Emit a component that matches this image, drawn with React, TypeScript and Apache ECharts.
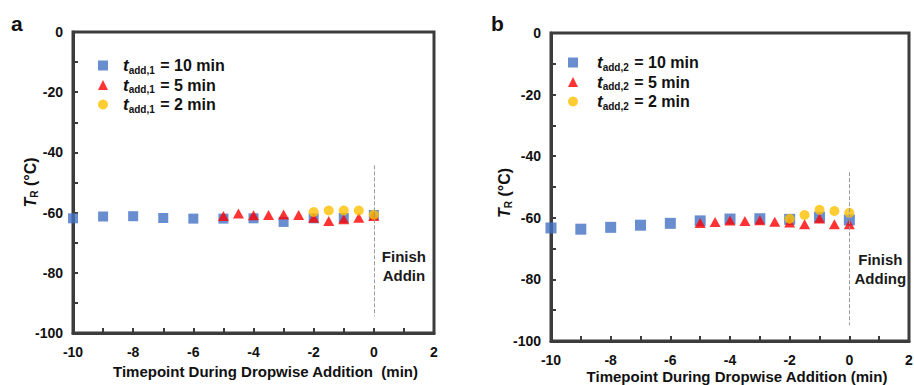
import React, { useEffect, useRef } from "react";
import * as echarts from "echarts";

const FONT = "'Liberation Sans', Arial, Helvetica, sans-serif";

// Panel a
const xA10 = [-10, -9, -8, -7, -6, -5, -4, -3, -2, -1, 0];
const yA10 = [-61.9, -61.3, -61.2, -61.8, -62.0, -62.0, -61.9, -63.1, -61.9, -61.8, -60.8];
const xA5 = [-5, -4.5, -4, -3.5, -3, -2.5, -2, -1.5, -1, -0.5, 0];
const yA5 = [-61.1, -60.3, -60.9, -60.8, -60.6, -60.8, -61.7, -62.8, -62.2, -61.7, -61.1];
const xA2 = [-2, -1.5, -1, -0.5, 0];
const yA2 = [-59.8, -59.3, -59.3, -59.3, -60.7];

// Panel b
const xB10 = [-10, -9, -8, -7, -6, -5, -4, -3, -2, -1, 0];
const yB10 = [-63.3, -63.7, -63.1, -62.4, -61.8, -61.0, -60.4, -60.3, -60.5, -59.8, -60.7];
const xB5 = [-5, -4.5, -4, -3.5, -3, -2.5, -2, -1.5, -1, -0.5, 0];
const yB5 = [-61.7, -61.4, -60.9, -61.0, -60.8, -61.3, -61.5, -62.1, -60.2, -62.1, -62.1];
const xB2 = [-2, -1.5, -1, -0.5, 0];
const yB2 = [-60.3, -59.1, -57.4, -57.8, -58.4];

const namesA = ["tadd,1 = 10 min", "tadd,1 = 5 min", "tadd,1 = 2 min"];
const namesB = ["tadd,2 = 10 min", "tadd,2 = 5 min", "tadd,2 = 2 min"];

const X_RANGE = [-10, 2];
const Y_RANGE = [-100, 0];

const dashA = [-44.3, -94.4];
const dashB = [-45.2, -94.9];
const noteA = { x: 1.0, y: -77.8, text: "Finish\nAddin" };
const noteB = { x: 1.04, y: -76.6, text: "Finish\nAdding" };

const xTitleA = "Timepoint During Dropwise Addition  (min)";
const xTitleB = "Timepoint During Dropwise Addition (min)";

const COLORS = { sq: "#4472C4", tri: "#FF0000", circ: "#FFC000" };
const AXIS = "#3c3c3c";
const LW = 3;

const GRIDS = [
  { left: 73, top: 32, width: 361, height: 301 },
  { left: 551, top: 33, width: 358, height: 308 },
];

const zip = (xs: number[], ys: number[]) => xs.map((x, i) => [x, ys[i]]);

const makeLegendRich = (lead: number) => ({
  t: { fontFamily: FONT, fontStyle: "italic", fontWeight: "bold", fontSize: 17, color: "#111", lineHeight: 18, padding: [0, 0, 0, lead] },
  s: { fontFamily: FONT, fontWeight: "bold", fontSize: 10, color: "#111", lineHeight: 9, padding: [9, 1, 0, 0] },
  n: { fontFamily: FONT, fontWeight: "bold", fontSize: 16, color: "#111", lineHeight: 18 },
});

const legendFormatter = (name: string) => {
  const m = name.match(/^t(add,\d)(.*)$/);
  if (!m) return name;
  return `{t|t}{s|${m[1]}}{n|${m[2]}}`;
};

function xAxis(gridIndex: number, title: string, gap: number, padLeft: number) {
  return {
    type: "value",
    gridIndex,
    min: X_RANGE[0],
    max: X_RANGE[1],
    interval: 1,
    name: title,
    nameLocation: "middle",
    nameGap: gap,
    nameMoveOverlap: false,
    nameTextStyle: { fontFamily: FONT, fontWeight: "bold", fontSize: 15, color: "#111", padding: [0, 0, 0, padLeft] },
    axisLine: { show: true, onZero: false, lineStyle: { color: AXIS, width: LW } },
    axisTick: { show: true, inside: true, length: 5, lineStyle: { color: AXIS, width: 2 } },
    splitLine: { show: false },
    axisLabel: {
      fontFamily: FONT,
      fontWeight: "bold",
      fontSize: 14,
      color: "#111",
      margin: 12,
      formatter: (v: number) => (Math.round(v) % 2 === 0 ? String(v) : ""),
    },
  };
}

function yAxis(gridIndex: number, gap: number, padRight: number) {
  return {
    type: "value",
    gridIndex,
    min: Y_RANGE[0],
    max: Y_RANGE[1],
    interval: 10,
    name: "{t|T}{s|R}{n| (°C)}",
    nameLocation: "middle",
    nameGap: gap,
    nameMoveOverlap: false,
    nameTextStyle: {
      padding: [0, padRight, 0, 0],
      rich: {
        t: { fontFamily: FONT, fontStyle: "italic", fontWeight: "bold", fontSize: 16, color: "#111", lineHeight: 18 },
        s: { fontFamily: FONT, fontWeight: "bold", fontSize: 10, color: "#111", lineHeight: 9, padding: [9, 0, 0, 0] },
        n: { fontFamily: FONT, fontWeight: "bold", fontSize: 16, color: "#111", lineHeight: 18 },
      },
    },
    axisLine: { show: true, onZero: false, lineStyle: { color: AXIS, width: LW } },
    axisTick: { show: true, inside: true, length: 5, lineStyle: { color: AXIS, width: 2 } },
    splitLine: { show: false },
    axisLabel: {
      fontFamily: FONT,
      fontWeight: "bold",
      fontSize: 14,
      color: "#111",
      margin: 10,
      formatter: (v: number) => (Math.round(v) % 20 === 0 ? String(v) : ""),
    },
  };
}

function panelSeries(
  idx: number,
  names: string[],
  sq: number[][],
  tri: number[][],
  circ: number[][],
  dash: number[],
  note: { x: number; y: number; text: string },
  sqSize: number
) {
  return [
    {
      type: "scatter",
      name: names[0],
      xAxisIndex: idx,
      yAxisIndex: idx,
      symbol: "rect",
      symbolSize: sqSize,
      itemStyle: { color: COLORS.sq },
      data: sq,
      markLine: {
        silent: true,
        symbol: "none",
        label: { show: false },
        lineStyle: { color: "#9a9a9a", type: [4, 2], width: 1 },
        data: [[{ coord: [0, dash[0]] }, { coord: [0, dash[1]] }]],
      },
    },
    {
      type: "scatter",
      name: names[1],
      xAxisIndex: idx,
      yAxisIndex: idx,
      symbol: "triangle",
      symbolSize: [11, 10],
      itemStyle: { color: COLORS.tri },
      data: tri,
    },
    {
      type: "scatter",
      name: names[2],
      xAxisIndex: idx,
      yAxisIndex: idx,
      symbol: "circle",
      symbolSize: 10,
      itemStyle: { color: COLORS.circ },
      data: circ,
      markPoint: {
        silent: true,
        symbol: "circle",
        symbolSize: 0,
        itemStyle: { color: "transparent" },
        label: {
          show: true,
          position: "inside",
          formatter: note.text,
          fontFamily: FONT,
          fontWeight: "bold",
          fontSize: 15,
          lineHeight: 19,
          color: "#1a1a1a",
          align: "center",
        },
        data: [{ coord: [note.x, note.y] }],
      },
    },
  ];
}

export default function App() {
  const ref = useRef<HTMLDivElement>(null);
  useEffect(() => {
    if (!ref.current) return;
    const chart = echarts.init(ref.current, undefined, { renderer: "svg" });
    chart.setOption({
      animation: false,
      grid: GRIDS.map((g) => ({
        ...g,
        show: true,
        borderColor: AXIS,
        borderWidth: LW,
        containLabel: false,
        outerBoundsMode: "none",
      })),
      xAxis: [xAxis(0, xTitleA, 31, 24), xAxis(1, xTitleB, 28, 14)],
      yAxis: [yAxis(0, 34, 0), yAxis(1, 38, 12)],
      legend: [
        {
          data: namesA,
          orient: "vertical",
          left: 93,
          top: 51,
          itemWidth: 10,
          itemHeight: 10,
          itemGap: 0.5,
          formatter: legendFormatter,
          textStyle: { rich: makeLegendRich(10) },
          selectedMode: false,
        },
        {
          data: namesB,
          orient: "vertical",
          left: 563,
          top: 48,
          itemWidth: 10,
          itemHeight: 10,
          itemGap: 0.5,
          formatter: legendFormatter,
          textStyle: { rich: makeLegendRich(14) },
          selectedMode: false,
        },
      ],
      graphic: [
        { type: "text", left: 11, top: 13, style: { text: "a", fontFamily: FONT, fontWeight: "bold", fontSize: 21, fill: "#111" } },
        { type: "text", left: 491, top: 13, style: { text: "b", fontFamily: FONT, fontWeight: "bold", fontSize: 21, fill: "#111" } },
      ],
      series: [
        ...panelSeries(0, namesA, zip(xA10, yA10), zip(xA5, yA5), zip(xA2, yA2), dashA, noteA, 10),
        ...panelSeries(1, namesB, zip(xB10, yB10), zip(xB5, yB5), zip(xB2, yB2), dashB, noteB, 11),
      ],
    });
    return () => chart.dispose();
  }, []);
  return (
    <div
      ref={ref}
      style={{ position: "absolute", left: 0, top: 0, width: 914, height: 385, background: "#fff" }}
    />
  );
}
